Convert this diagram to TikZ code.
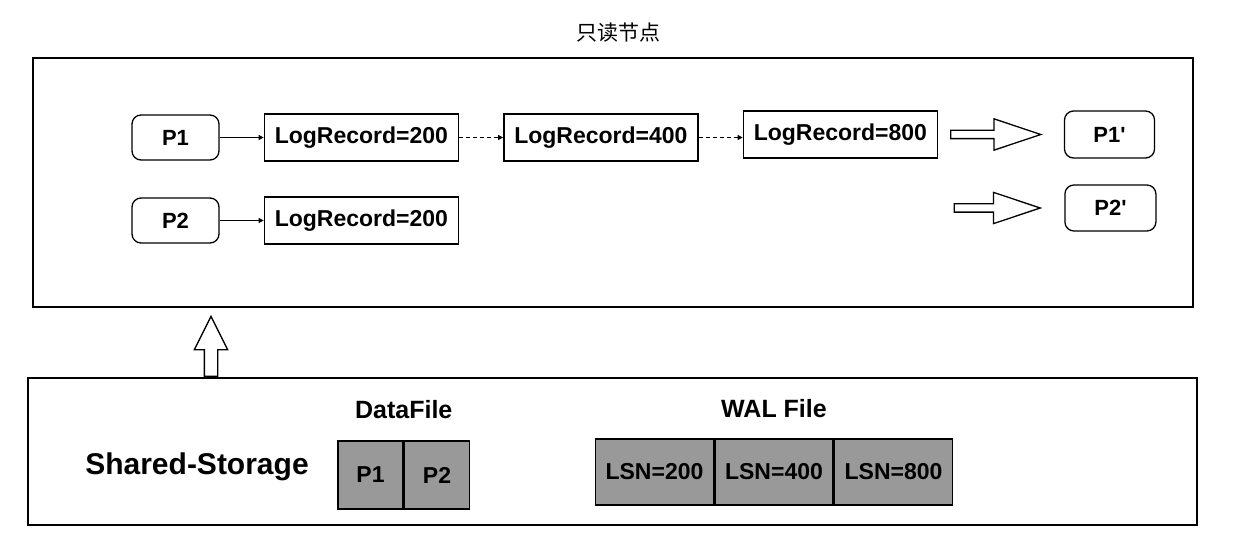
\documentclass[tikz,border=0pt]{standalone}
\usepackage{fontspec}
\setmainfont{Liberation Sans}
\newfontfamily\cjkfont{Noto Sans CJK SC}
\usetikzlibrary{arrows.meta,positioning,shapes.arrows}
\definecolor{cellgrey}{RGB}{153,153,153}

\begin{document}
\begin{tikzpicture}[x=1pt, y=-1pt, node distance=44pt,
  pbox/.style={draw, line width=1.3pt, rounded corners=9pt, minimum height=45pt, inner sep=0pt, font=\fontsize{22}{26}\selectfont\bfseries},
  logbox/.style={draw, line width=1.5pt, minimum width=194pt, minimum height=47pt, inner sep=0pt, font=\fontsize{23}{27}\selectfont\bfseries},
  cell/.style={draw, line width=1.5pt, fill=cellgrey, inner sep=0pt, font=\fontsize{23}{27}\selectfont\bfseries},
  hollow/.style={single arrow, draw, line width=1.3pt, fill=white, inner xsep=0pt, inner ysep=3.5pt, text height=0pt, text depth=0pt, minimum width=0pt, single arrow head extend=11.5pt, single arrow tip angle=37},
  link/.style={line width=1pt, -{Triangle[length=5pt, width=5pt]}}]
\useasboundingbox (0,0) rectangle (1237,548);

\node[font=\fontsize{21}{25}\selectfont\cjkfont] (title) at (618,33) {只读节点};
\node[draw, line width=1.6pt, minimum width=1160pt, minimum height=249pt, inner sep=0pt] (ronode) at (613,182.5) {};
\node[draw, line width=1.6pt, minimum width=1169pt, minimum height=147pt, inner sep=0pt] (storage) at (612.5,451.5) {};

\node[pbox, minimum width=87pt] (p1) at (175.5,137.5) {P1};
\node[logbox, right=of p1] (lr1) {LogRecord=200};
\node[logbox, right=of lr1] (lr3) {LogRecord=400};
\node[logbox, right=of lr3, yshift=3pt] (lr4) {LogRecord=800};
\node[pbox, minimum width=87pt] (p2) at (175.5,220.5) {P2};
\node[logbox, right=of p2] (lr2) {LogRecord=200};

\node[hollow, minimum height=90pt, right=12pt of lr4] (arr1) {};
\node[pbox, minimum width=90pt, minimum height=47pt, right=21pt of arr1] (p1n) {P1\textquotesingle};
\node[hollow, minimum height=86pt] (arr2) at (991,208) {};
\node[pbox, minimum width=91pt, minimum height=46pt, right=22pt of arr2] (p2n) {P2\textquotesingle};

\draw[link] (p1) -- (lr1);
\draw[link] (p2) -- (lr2);
\draw[link, dash pattern=on 4pt off 3pt] (lr1) -- (lr3);
\draw[link, dash pattern=on 4pt off 3pt] (lr3.east) -- (lr3.east -| lr4.west);

\node[hollow, rotate=90, inner ysep=6pt, minimum height=60pt, single arrow head extend=10pt, single arrow tip angle=53] (up) at (211,353) {};

\node[font=\fontsize{30}{34}\selectfont\bfseries] (shared) at (197,467) {Shared-Storage};
\node[cell, minimum width=65pt, minimum height=68pt] (d1) at (370.5,475) {P1};
\node[cell, minimum width=65pt, minimum height=68pt, right=0pt of d1] (d2) {P2};
\node[inner sep=0pt, font=\fontsize{25}{29}\selectfont\bfseries, above=21pt of d1.north east] (dlabel) {DataFile};
\node[cell, minimum width=118pt, minimum height=66pt] (w1) at (654.5,472) {LSN=200};
\node[cell, minimum width=118pt, minimum height=66pt, right=0pt of w1] (w2) {LSN=400};
\node[cell, minimum width=118pt, minimum height=66pt, right=0pt of w2] (w3) {LSN=800};
\node[inner sep=0pt, font=\fontsize{25}{29}\selectfont\bfseries, above=20pt of w2.north] (wlabel) {WAL File};
\end{tikzpicture}
\end{document}
